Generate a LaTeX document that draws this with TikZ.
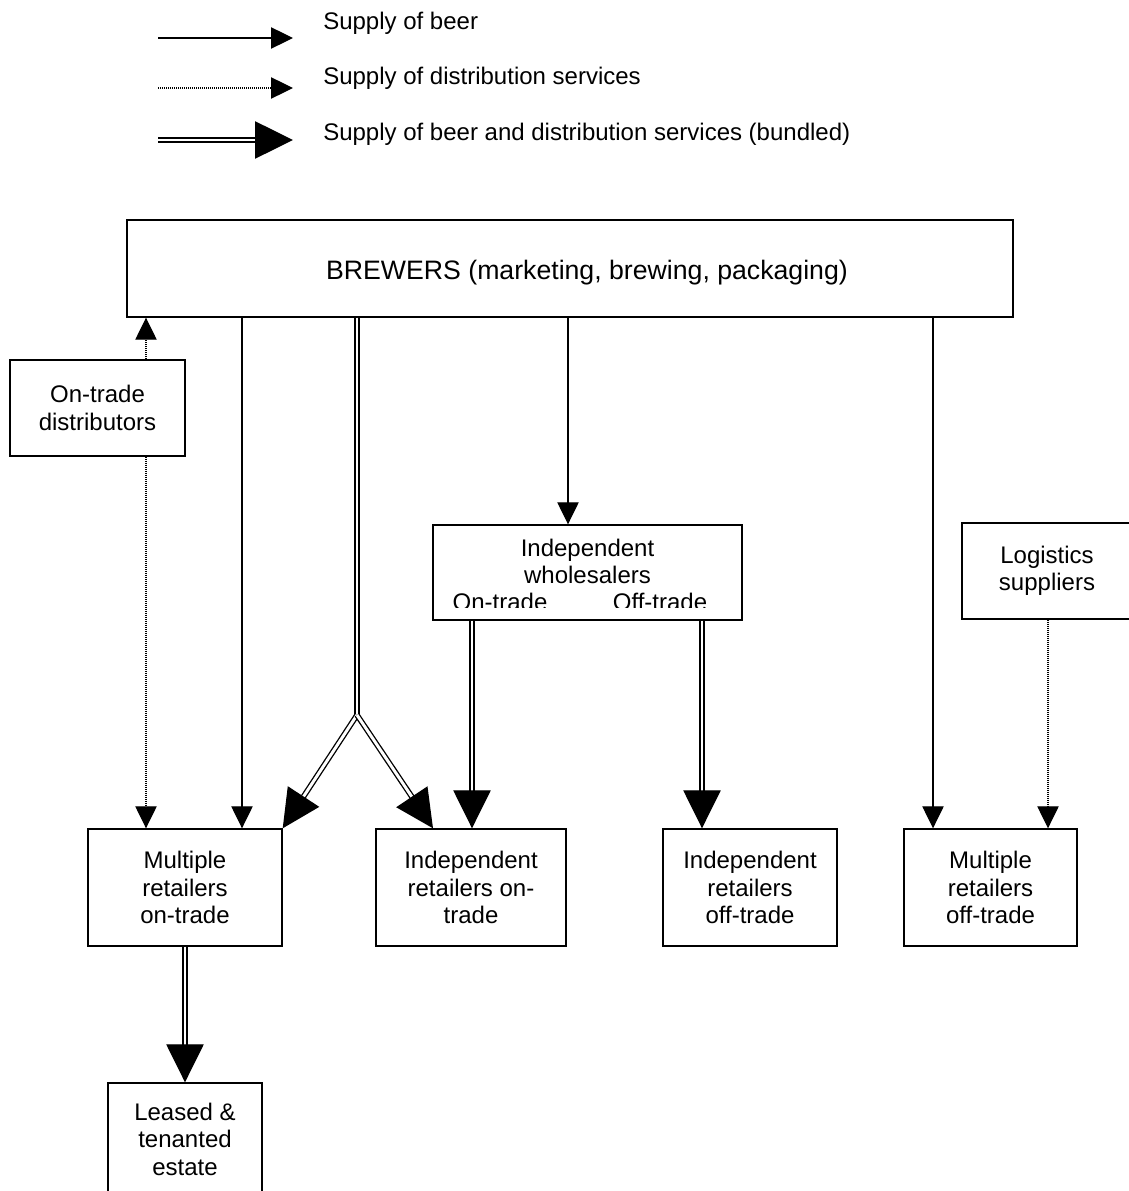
\documentclass[tikz,border=0pt]{standalone}
\usepackage{fontspec}
\setmainfont{Liberation Sans}
\usetikzlibrary{arrows.meta}
\begin{document}
\begin{tikzpicture}[x=0.75pt,y=-0.75pt,
  box/.style={draw, line width=1.05pt, inner sep=0pt, align=center,
    font=\fontsize{18pt}{20.6pt}\selectfont},
  txt/.style={inner sep=0pt, font=\fontsize{18pt}{20.6pt}\selectfont},
  beer/.style={line width=0.9pt, -{Triangle[length=16.5pt,width=16pt]}},
  dist/.style={line width=0.9pt, dash pattern=on 0.75pt off 0.75pt, -{Triangle[length=16.5pt,width=16pt]}},
  bund/.style={double, double distance=2.2pt, line width=1pt, -{Triangle[length=28.5pt,width=28pt]}},
  bundline/.style={double, double distance=2.2pt, line width=1pt},
]
\useasboundingbox (0,0) rectangle (1128,1191);
\fill[white] (0,0) rectangle (1128,1191);

% legend
\coordinate (l1a) at (158,38);  \coordinate (l1b) at (293,38);
\coordinate (l2a) at (158,88);  \coordinate (l2b) at (293,88);
\coordinate (l3a) at (158,140); \coordinate (l3b) at (293,140);
\draw[beer] (l1a) -- (l1b);
\draw[dist] (l2a) -- (l2b);
\draw[bund] (l3a) -- (l3b);
\node[txt, anchor=base west] (t1) at (323,30) {Supply of beer};
\node[txt, anchor=base west] (t2) at (323,85) {Supply of distribution services};
\node[txt, anchor=base west] (t3) at (323,141) {Supply of beer and distribution services (bundled)};

% boxes
\node[box, minimum width=664.5pt, minimum height=72.75pt] (brew) at (570,268.5) {};
\node[txt, font=\fontsize{20pt}{22pt}\selectfont, anchor=base] (brewt) at (587,279) {BREWERS (marketing, brewing, packaging)};
\node[box, minimum width=131.25pt, minimum height=72pt] (otd) at (97.5,408) {On-trade\\distributors};
\node[box, minimum width=231.75pt, minimum height=71.25pt] (whole) at (587.5,572.5) {};
\node[box, minimum width=127.5pt, minimum height=72pt] (logi) at (1047,571) {Logistics\\suppliers};
\node[box, minimum width=145.5pt, minimum height=87.75pt] (mro) at (185,887.5) {Multiple\\retailers\\on-trade};
\node[box, minimum width=142.5pt, minimum height=87.75pt] (iro) at (471,887.5) {Independent\\retailers on-\\trade};
\node[box, minimum width=130.5pt, minimum height=87.75pt] (iot) at (750,887.5) {Independent\\retailers\\off-trade};
\node[box, minimum width=129.75pt, minimum height=87.75pt] (mot) at (990.5,887.5) {Multiple\\retailers\\off-trade};
\node[box, minimum width=115.5pt, minimum height=84pt] (lte) at (185,1139) {Leased \&\\tenanted\\estate};

% wholesaler texts
\node[txt, anchor=base] (w1) at (587.5,556) {Independent};
\node[txt, anchor=base] (w2) at (587.5,583) {wholesalers};
\begin{scope}
  \clip (whole.north west) rectangle (whole.east |- 0,607);
  \node[txt, anchor=base] (w3) at (500,610) {On-trade};
  \node[txt, anchor=base] (w4) at (660,610) {Off-trade};
\end{scope}

% x positions
\coordinate (xa) at (146,0);
\coordinate (xb) at (242,0);
\coordinate (xc) at (357,0);
\coordinate (xd) at (433,0);
\coordinate (xe) at (568,0);
\coordinate (xf) at (472,0);
\coordinate (xg) at (702,0);
\coordinate (xh) at (933,0);
\coordinate (xi) at (1048,0);
\coordinate (J) at (357,715);

% connectors
\draw[dist] (otd.north -| xa) -- (brew.south -| xa);
\draw[dist] (otd.south -| xa) -- (mro.north -| xa);
\draw[beer] (brew.south -| xb) -- (mro.north -| xb);
\draw[bundline] (brew.south -| xc) -- (J);
\draw[bund] (J) -- (mro.north east);
\draw[bund] (J) -- (iro.north -| xd);
\draw[beer] (brew.south -| xe) -- (whole.north -| xe);
\draw[bund] (whole.south -| xf) -- (iro.north -| xf);
\draw[bund] (whole.south -| xg) -- (iot.north -| xg);
\draw[beer] (brew.south -| xh) -- (mot.north -| xh);
\draw[dist] (logi.south -| xi) -- (mot.north -| xi);
\draw[bund] (mro.south) -- (lte.north);
\end{tikzpicture}
\end{document}
